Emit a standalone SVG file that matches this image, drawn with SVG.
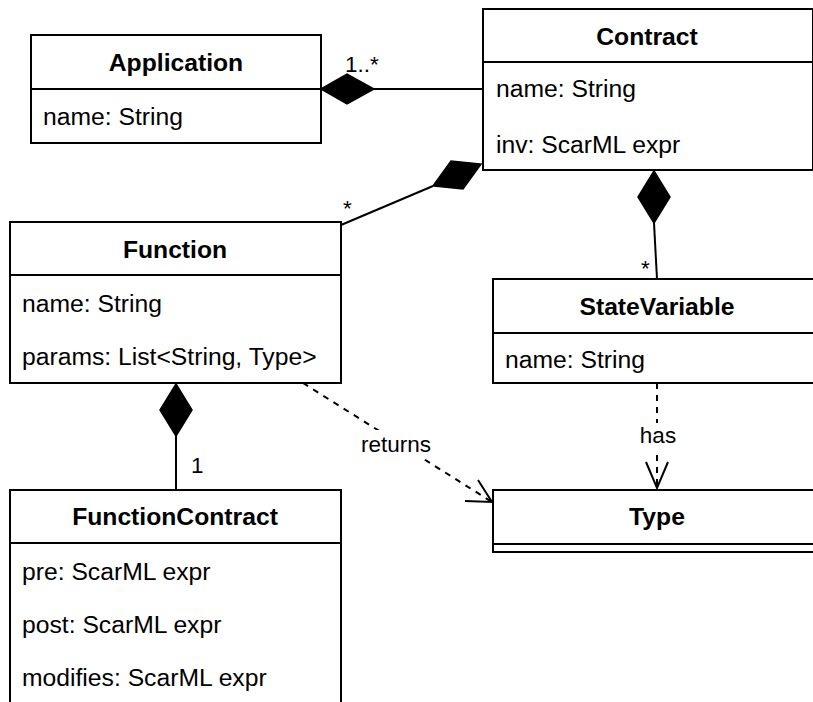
<svg xmlns="http://www.w3.org/2000/svg" width="813" height="702" viewBox="0 0 813 702">
<style>
.box{fill:#fff;stroke:#000;stroke-width:2}
.ln{fill:none;stroke:#000;stroke-width:2}
.dash{fill:none;stroke:#000;stroke-width:2;stroke-dasharray:6 6}
.dia{fill:#000;stroke:#000;stroke-width:1.5;stroke-linejoin:miter}
.t{font-family:"Liberation Sans",Arial,sans-serif;font-size:24.7px;fill:#000}
.h{font-family:"Liberation Sans",Arial,sans-serif;font-size:24.7px;font-weight:bold;fill:#000;text-anchor:middle}
.lb{font-family:"Liberation Sans",Arial,sans-serif;font-size:22.5px;fill:#000}
</style>
<rect width="813" height="702" fill="#fff"/>
<g id="connectors">
  <line class="ln" x1="374" y1="89" x2="483" y2="89"/>
  <polygon class="dia" points="321,89 347,74 374,89 347,104"/>
  <line class="ln" x1="341" y1="225" x2="433" y2="186"/>
  <polygon class="dia" points="433,186 451,161 481,164 463,189"/>
  <line class="ln" x1="654" y1="223" x2="657" y2="279"/>
  <polygon class="dia" points="654,171 670,197 654,223 638,197"/>
  <line class="ln" x1="176" y1="436" x2="176" y2="490"/>
  <polygon class="dia" points="176,384 192,410 176,436 160,410"/>
  <line class="dash" x1="303" y1="383" x2="492" y2="502"/>
  <polyline class="ln" points="478,480 492,502 465,501"/>
  <line class="dash" x1="657" y1="383" x2="657" y2="488"/>
  <polyline class="ln" points="646,462 657,488 668,462"/>
  <text class="lb" x="345" y="72">1..*</text>
  <text class="lb" x="343" y="216">*</text>
  <text class="lb" x="641" y="276">*</text>
  <text class="lb" x="191" y="473">1</text>
  <rect x="359" y="430" width="75" height="28" fill="#fff"/>
  <text class="lb" x="396" y="452" text-anchor="middle">returns</text>
  <rect x="639" y="423" width="38" height="27" fill="#fff"/>
  <text class="lb" x="658" y="443" text-anchor="middle">has</text>
</g>
<g id="Application">
  <rect class="box" x="31" y="35" width="290" height="108"/>
  <line class="ln" x1="31" y1="89" x2="321" y2="89"/>
  <text class="h" x="176" y="71">Application</text>
  <text class="t" x="43" y="125">name: String</text>
</g>
<g id="Contract">
  <rect class="box" x="483" y="9" width="330" height="161"/>
  <line class="ln" x1="483" y1="62" x2="813" y2="62"/>
  <text class="h" x="647" y="45">Contract</text>
  <text class="t" x="496" y="97">name: String</text>
  <text class="t" x="496" y="153">inv: ScarML expr</text>
</g>
<g id="Function">
  <rect class="box" x="10" y="222" width="331" height="161"/>
  <line class="ln" x1="10" y1="275" x2="341" y2="275"/>
  <text class="h" x="175" y="258">Function</text>
  <text class="t" x="22" y="312">name: String</text>
  <text class="t" x="22" y="365">params: List&lt;String, Type&gt;</text>
</g>
<g id="StateVariable">
  <rect class="box" x="493" y="279" width="329" height="104"/>
  <line class="ln" x1="493" y1="333" x2="822" y2="333"/>
  <text class="h" x="657" y="315">StateVariable</text>
  <text class="t" x="505" y="368">name: String</text>
</g>
<g id="FunctionContract">
  <rect class="box" x="10" y="490" width="331" height="230"/>
  <line class="ln" x1="10" y1="543" x2="341" y2="543"/>
  <text class="h" x="175" y="525">FunctionContract</text>
  <text class="t" x="22" y="580">pre: ScarML expr</text>
  <text class="t" x="22" y="633">post: ScarML expr</text>
  <text class="t" x="22" y="686">modifies: ScarML expr</text>
</g>
<g id="Type">
  <rect class="box" x="493" y="490" width="329" height="62"/>
  <line class="ln" x1="493" y1="544" x2="822" y2="544"/>
  <text class="h" x="657" y="525">Type</text>
</g>
</svg>
